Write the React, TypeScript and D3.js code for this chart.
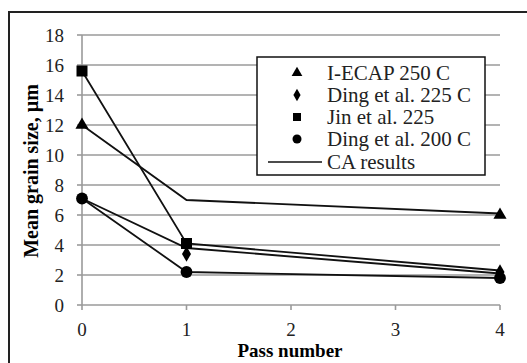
import * as d3 from "d3";
import { useEffect, useRef } from "react";

// pass numbers on x
const passes = [0, 1, 4];
const xTicks = [0, 1, 2, 3, 4];
const yTicks = [0, 2, 4, 6, 8, 10, 12, 14, 16, 18];

// CA result curves (plain lines)
const caIecap250 = [12, 7.0, 6.1];
const caDing225 = [7.1, 3.8, 2.1];
const caJin225 = [15.6, 4.1, 2.3];
const caDing200 = [7.1, 2.2, 1.8];

// experimental points [pass, size]
const iecap250: [number, number][] = [[0, 12], [4, 6.0]];
const ding225: [number, number][] = [[1, 3.4], [4, 2.2]];
const jin225: [number, number][] = [[0, 15.6], [1, 4.1]];
const ding200: [number, number][] = [[0, 7.1], [1, 2.2], [4, 1.8]];

const legendNames = ["I-ECAP 250 C", "Ding et al. 225 C", "Jin et al. 225", "Ding et al. 200 C", "CA results"];

const App = () => {
  const ref = useRef<SVGSVGElement>(null);

  useEffect(() => {
    const svg = d3.select(ref.current);
    svg.selectAll("*").remove();

    const width = 527, height = 363;
    const x = d3.scaleLinear().domain([0, 4]).range([82, 500]);
    const y = d3.scaleLinear().domain([0, 18]).range([305, 35]);
    const font = "Liberation Serif, serif";
    const grid = "#9a9a9a";

    // outer frame
    svg.append("rect")
      .attr("x", 9).attr("y", 12)
      .attr("width", width + 10).attr("height", height + 10)
      .attr("fill", "none").attr("stroke", "#222").attr("stroke-width", 2);

    // gridlines
    svg.selectAll(".grid").data(yTicks.filter(d => d > 0)).join("line")
      .attr("x1", x(0)).attr("x2", x(4))
      .attr("y1", d => y(d)).attr("y2", d => y(d))
      .attr("stroke", grid).attr("stroke-width", 1.6);

    // axes
    svg.append("line").attr("x1", x(0)).attr("x2", x(0)).attr("y1", y(0)).attr("y2", y(18))
      .attr("stroke", grid).attr("stroke-width", 1.6);
    svg.append("line").attr("x1", x(0)).attr("x2", x(4)).attr("y1", y(0)).attr("y2", y(0))
      .attr("stroke", grid).attr("stroke-width", 1.6);
    svg.selectAll(".yt").data(yTicks).join("line")
      .attr("x1", x(0) - 5).attr("x2", x(0))
      .attr("y1", d => y(d)).attr("y2", d => y(d))
      .attr("stroke", grid).attr("stroke-width", 1.6);
    svg.selectAll(".xt").data(xTicks).join("line")
      .attr("x1", d => x(d)).attr("x2", d => x(d))
      .attr("y1", y(0)).attr("y2", y(0) + 5)
      .attr("stroke", grid).attr("stroke-width", 1.6);

    svg.selectAll(".yl").data(yTicks).join("text")
      .attr("x", 64).attr("y", d => y(d) + 6.5)
      .attr("text-anchor", "end")
      .attr("font-family", font).attr("font-size", 19).attr("fill", "#222")
      .text(d => d);
    svg.selectAll(".xl").data(xTicks).join("text")
      .attr("x", d => x(d)).attr("y", 336)
      .attr("text-anchor", "middle")
      .attr("font-family", font).attr("font-size", 19).attr("fill", "#222")
      .text(d => d);

    svg.append("text")
      .attr("x", 290).attr("y", 357).attr("text-anchor", "middle")
      .attr("font-family", font).attr("font-size", 19).attr("font-weight", "bold")
      .text("Pass number");
    svg.append("text")
      .attr("transform", `translate(38,171) rotate(-90)`)
      .attr("text-anchor", "middle")
      .attr("font-family", font).attr("font-size", 20).attr("font-weight", "bold")
      .text("Mean grain size, µm");

    // CA lines
    const line = d3.line<number>().x((_, i) => x(passes[i])).y(d => y(d));
    [caIecap250, caDing225, caJin225, caDing200].forEach(s => {
      svg.append("path").attr("d", line(s)).attr("fill", "none")
        .attr("stroke", "#111").attr("stroke-width", 1.8);
    });

    // markers
    const markers: [[number, number][], d3.SymbolType, number][] = [
      [iecap250, d3.symbolTriangle, 75],
      [ding225, d3.symbolDiamond, 70],
      [jin225, d3.symbolSquare, 121],
      [ding200, d3.symbolCircle, 110],
    ];
    markers.forEach(([pts, type, size]) => {
      svg.selectAll(null).data(pts).join("path")
        .attr("d", d3.symbol(type, size)())
        .attr("transform", d => `translate(${x(d[0])},${y(d[1])})`)
        .attr("fill", "#000");
    });

    // legend
    const lg = svg.append("g");
    lg.append("rect").attr("x", 257).attr("y", 57).attr("width", 228).attr("height", 118)
      .attr("fill", "#fff").attr("stroke", "#111").attr("stroke-width", 1.5);
    const rows = [73, 95, 117, 139, 162];
    const legSyms: [d3.SymbolType, number][] = [
      [d3.symbolTriangle, 50], [d3.symbolDiamond, 45], [d3.symbolSquare, 64], [d3.symbolCircle, 64],
    ];
    legSyms.forEach(([type, size], i) => {
      lg.append("path").attr("d", d3.symbol(type, size)())
        .attr("transform", `translate(297,${rows[i]})`).attr("fill", "#000");
    });
    lg.append("line").attr("x1", 268).attr("x2", 322).attr("y1", rows[4]).attr("y2", rows[4])
      .attr("stroke", "#111").attr("stroke-width", 1.5);
    lg.selectAll("text").data(legendNames).join("text")
      .attr("x", 327).attr("y", (_, i) => rows[i] + 7)
      .attr("font-family", font).attr("font-size", 21).attr("fill", "#222")
      .text(d => d);
  }, []);

  return (
    <svg ref={ref} width={527} height={363}
      style={{ position: "absolute", left: 0, top: 0, background: "#fff" }} />
  );
};

export default App;
